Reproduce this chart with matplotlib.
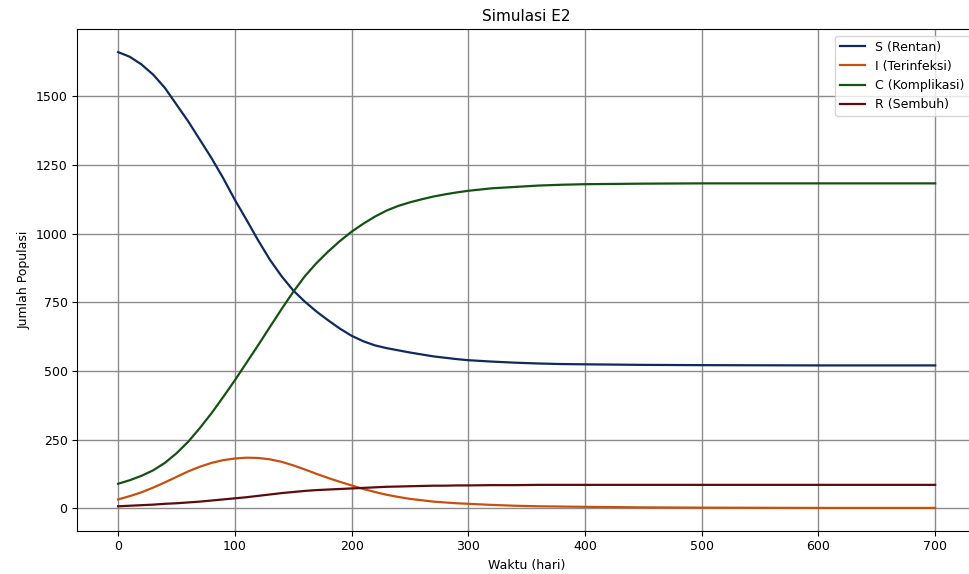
"""Simulasi E2: kurva S, I, C, R terhadap waktu."""
import numpy as np
from matplotlib import pyplot as plt

# hari (sumbu x)
waktu = [0, 10, 20, 30, 40, 50, 60, 70, 80, 90, 100, 110, 120, 130, 140,
         150, 160, 170, 180, 190, 200, 210, 220, 230, 240, 250, 260, 270,
         280, 290, 300, 320, 340, 360, 380, 400, 450, 500, 600, 700]

rentan = [1661, 1644, 1616, 1579, 1531, 1470, 1409, 1342, 1275, 1202, 1123,
          1050, 975, 905, 845, 793, 752, 716, 684, 654, 628, 608, 593, 583,
          575, 567, 560, 553, 548, 543, 539, 534, 530, 527, 525, 524, 522,
          521, 520, 520]

terinfeksi = [32, 44, 58, 75, 94, 114, 134, 151, 165, 175, 181, 184, 183,
              178, 169, 156, 141, 125, 110, 96, 83, 70, 59, 49, 41, 34, 29,
              24, 21, 18, 16, 12, 9, 7, 6, 5, 3, 2, 1, 1]

komplikasi = [89, 102, 118, 138, 165, 200, 242, 292, 346, 405, 466, 530, 594,
              660, 725, 788, 845, 893, 935, 973, 1007, 1036, 1062, 1084, 1101,
              1114, 1125, 1135, 1143, 1150, 1156, 1165, 1170, 1175, 1178, 1180,
              1182, 1183, 1183, 1183]

sembuh = [7, 9, 11, 13, 16, 18, 21, 24, 28, 32, 36, 40, 45, 50, 55, 59, 63,
          66, 68, 70, 72, 74, 76, 78, 79, 80, 81, 82, 82, 83, 83, 84, 84, 85,
          85, 85, 85, 85, 85, 85]


def plot_simulasi() -> None:
    """Plot the four compartments and save to out.png."""
    fig = plt.figure(figsize=(9.7, 5.74), dpi=100)
    ax = fig.add_axes([0.0797, 0.0754, 0.9265, 0.8735])

    ax.plot(waktu, rentan, color="#0f2a5c", lw=1.6, label="S (Rentan)")
    ax.plot(waktu, terinfeksi, color="#c8500f", lw=1.6, label="I (Terinfeksi)")
    ax.plot(waktu, komplikasi, color="#145214", lw=1.6, label="C (Komplikasi)")
    ax.plot(waktu, sembuh, color="#5e0b0b", lw=1.6, label="R (Sembuh)")

    ax.set_xticks(np.arange(0, 701, 100))
    ax.set_yticks(np.arange(0, 1501, 250))
    ax.tick_params(labelsize=9)
    ax.grid(True, color="#8c8c8c", linewidth=1)

    ax.set_title("Simulasi E2", fontsize=11)
    ax.set_xlabel("Waktu (hari)", fontsize=9)
    ax.set_ylabel("Jumlah Populasi", fontsize=9)
    ax.legend(loc="upper right", fontsize=9)

    fig.savefig("out.png", dpi=100)


plot_simulasi()
